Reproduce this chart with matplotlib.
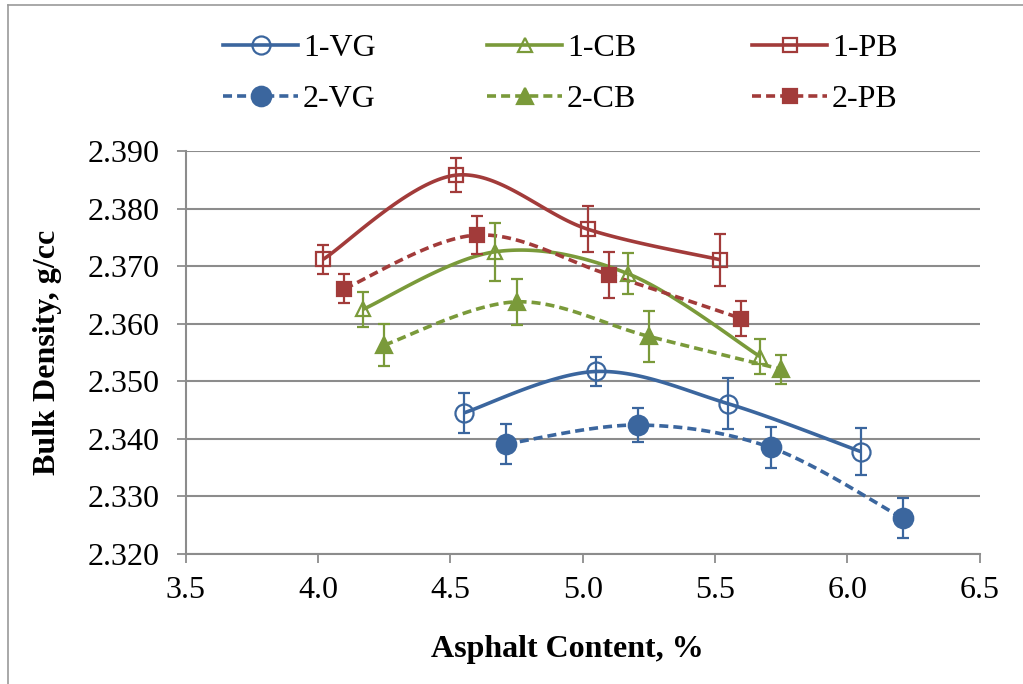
import numpy as np
import matplotlib
matplotlib.use("Agg")
import matplotlib.pyplot as plt
from matplotlib.lines import Line2D

plt.rcParams['font.family'] = ['Liberation Serif', 'DejaVu Serif']

# Bulk density vs. asphalt content, two mixes per aggregate source
x_1vg = [4.55, 5.05, 5.55, 6.05]
y_1vg = [2.3445, 2.3517, 2.3461, 2.3378]
e_1vg = [0.0035, 0.0025, 0.0044, 0.0040]

x_2vg = [4.71, 5.21, 5.71, 6.21]
y_2vg = [2.3391, 2.3424, 2.3385, 2.3262]
e_2vg = [0.0035, 0.0030, 0.0035, 0.0035]

x_1cb = [4.17, 4.67, 5.17, 5.67]
y_1cb = [2.3625, 2.3725, 2.3687, 2.3543]
e_1cb = [0.0030, 0.0050, 0.0035, 0.0030]

x_2cb = [4.25, 4.75, 5.25, 5.75]
y_2cb = [2.3563, 2.3638, 2.3578, 2.3521]
e_2cb = [0.0036, 0.0040, 0.0044, 0.0025]

x_1pb = [4.02, 4.52, 5.02, 5.52]
y_1pb = [2.3712, 2.3858, 2.3764, 2.3711]
e_1pb = [0.0025, 0.0030, 0.0040, 0.0045]

x_2pb = [4.10, 4.60, 5.10, 5.60]
y_2pb = [2.3661, 2.3754, 2.3685, 2.3609]
e_2pb = [0.0025, 0.0033, 0.0040, 0.0030]

x_ticks = [3.5, 4.0, 4.5, 5.0, 5.5, 6.0, 6.5]
y_ticks = [2.320, 2.330, 2.340, 2.350, 2.360, 2.370, 2.380, 2.390]

BLUE = '#3B669E'
GREEN = '#7A9A3A'
RED = '#A23B3A'
GRID = '#8C8C8C'
FS = 23


def smooth(x, y, n=40):
    """Catmull-Rom style smoothed curve through the points."""
    P = np.column_stack([x, y]).astype(float)
    out = []
    for i in range(len(P) - 1):
        p0 = P[i - 1] if i > 0 else P[i]
        p1, p2 = P[i], P[i + 1]
        p3 = P[i + 2] if i + 2 < len(P) else P[i + 1]
        c1 = p1 + (p2 - p0) / 6.0
        c2 = p2 - (p3 - p1) / 6.0
        t = np.linspace(0, 1, n)[:, None]
        seg = ((1 - t) ** 3) * p1 + 3 * ((1 - t) ** 2) * t * c1 \
            + 3 * (1 - t) * t ** 2 * c2 + t ** 3 * p2
        out.append(seg if i == 0 else seg[1:])
    s = np.vstack(out)
    return s[:, 0], s[:, 1]


fig = plt.figure(figsize=(10.23, 6.84), dpi=100)
ax = fig.add_axes([185.7 / 1023, 1 - 554 / 684, (979.7 - 185.7) / 1023, (554 - 151) / 684])

LW = 2.6
DASH = (2.5, 1.4)

series = [
    (x_1vg, y_1vg, e_1vg, BLUE, 'o', 'none', 13, '-', '1-VG'),
    (x_1cb, y_1cb, e_1cb, GREEN, '^', 'none', 10, '-', '1-CB'),
    (x_1pb, y_1pb, e_1pb, RED, 's', 'none', 10, '-', '1-PB'),
    (x_2vg, y_2vg, e_2vg, BLUE, 'o', BLUE, 14, '--', '2-VG'),
    (x_2cb, y_2cb, e_2cb, GREEN, '^', GREEN, 11, '--', '2-CB'),
    (x_2pb, y_2pb, e_2pb, RED, 's', RED, 10, '--', '2-PB'),
]

handles = {}
for xs, ys, es, c, m, fc, ms, ls, lab in series:
    sx, sy = smooth(xs, ys)
    line, = ax.plot(sx, sy, color=c, lw=LW, solid_capstyle='butt', zorder=3)
    if ls == '--':
        line.set_dashes(DASH)
    ax.errorbar(xs, ys, yerr=es, fmt='none', ecolor=c, elinewidth=1.6,
                capsize=4.5, capthick=1.6, zorder=4)
    ax.plot(xs, ys, ls='none', marker=m, markersize=ms, markerfacecolor=fc,
            markeredgecolor=c, markeredgewidth=1.6, zorder=5)
    h = Line2D([0], [0], color=c, lw=LW, marker=m, markersize=ms,
               markerfacecolor=fc, markeredgecolor=c, markeredgewidth=1.6)
    if ls == '--':
        h.set_dashes(DASH)
    handles[lab] = h

ax.set_xlim(3.5, 6.5)
ax.set_ylim(2.320, 2.390)
ax.set_xticks(x_ticks)
ax.set_xticklabels([f'{v:.1f}' for v in x_ticks])
ax.set_yticks(y_ticks)
ax.set_yticklabels([f'{v:.3f}' for v in y_ticks])
ax.tick_params(axis='both', labelsize=FS, colors=GRID, labelcolor='black',
               length=6.5, width=1.3, direction='out')
ax.tick_params(axis='y', pad=12)
ax.tick_params(axis='x', pad=9)
ax.yaxis.grid(True, color=GRID, lw=1.5)
ax.set_axisbelow(True)
for side in ('top', 'right'):
    ax.spines[side].set_visible(False)
for side in ('left', 'bottom'):
    ax.spines[side].set_color(GRID)
    ax.spines[side].set_linewidth(1.5)

fig.text(567 / 1023, 1 - 650 / 684, 'Asphalt Content, %', ha='center', va='center',
         fontsize=FS, fontweight='bold')
fig.text(48 / 1023, 1 - 352 / 684, 'Bulk Density, g/cc', ha='center', va='center',
         rotation=90, fontsize=FS, fontweight='bold')

# legend: three columns, each with the run-1 and run-2 entries
for i, (a, b) in enumerate([('1-VG', '2-VG'), ('1-CB', '2-CB'), ('1-PB', '2-PB')]):
    x0 = [223, 487, 752][i] / 1023
    fig.legend([handles[a], handles[b]], [a, b], loc='upper left',
               bbox_to_anchor=(x0, 1 - 34 / 684), frameon=False, fontsize=FS,
               handlelength=2.35, handletextpad=0.15, borderpad=0,
               borderaxespad=0, labelspacing=0.67)

# chart-area border
fig.add_artist(Line2D([8 / 1023, 8 / 1023], [0, 1 - 5 / 684], color='#9A9A9A', lw=1.2,
                      transform=fig.transFigure))
fig.add_artist(Line2D([8 / 1023, 1], [1 - 5 / 684, 1 - 5 / 684], color='#9A9A9A', lw=1.2,
                      transform=fig.transFigure))

fig.savefig('out.png', dpi=100)
